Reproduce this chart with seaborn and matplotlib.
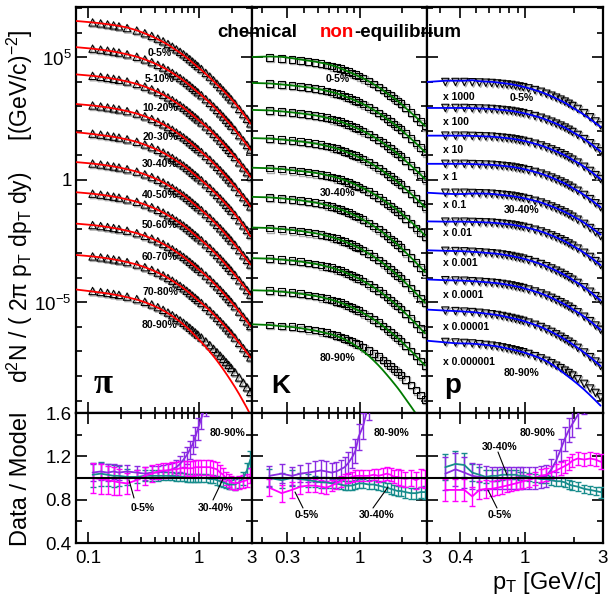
import numpy as np
import pandas as pd
import matplotlib
matplotlib.use("Agg")
import matplotlib.pyplot as plt
import seaborn as sns
from matplotlib.lines import Line2D
from matplotlib.ticker import FixedLocator, FixedFormatter, NullFormatter
from matplotlib.transforms import ScaledTranslation

# ---------------------------------------------------------------- data
centralities = ["0-5%", "5-10%", "10-20%", "20-30%", "30-40%",
                "40-50%", "50-60%", "60-70%", "70-80%", "80-90%"]
proton_scale_labels = ["x 1000", "x 100", "x 10", "x 1", "x 0.1", "x 0.01",
                       "x 0.001", "x 0.0001", "x 0.00001", "x 0.000001"]

# pT bin centres [GeV/c]
pion_pt = [0.11, 0.13, 0.15, 0.17, 0.19, 0.225, 0.275, 0.325, 0.375, 0.425,
           0.475, 0.525, 0.575, 0.625, 0.675, 0.725, 0.775, 0.825, 0.875,
           0.925, 0.975, 1.05, 1.15, 1.25, 1.35, 1.45, 1.55, 1.65, 1.75,
           1.85, 1.95, 2.1, 2.3, 2.5, 2.7, 2.9]
kaon_pt = [0.225, 0.275, 0.325, 0.375, 0.425, 0.475, 0.525, 0.575, 0.625,
           0.675, 0.725, 0.775, 0.825, 0.875, 0.925, 0.975, 1.05, 1.15, 1.25,
           1.35, 1.45, 1.55, 1.65, 1.75, 1.85, 1.95, 2.1, 2.3, 2.5, 2.7, 2.9]
proton_pt = [0.325, 0.375, 0.425, 0.475, 0.525, 0.575, 0.625, 0.675, 0.725,
             0.775, 0.825, 0.875, 0.925, 0.975, 1.05, 1.15, 1.25, 1.35, 1.45,
             1.55, 1.65, 1.75, 1.85, 1.95, 2.1, 2.3, 2.5, 2.7, 2.9]

# log10 of the plotted invariant yields d2N/(2pi pT dpT dy), per centrality
pion_0_5 = [6.43, 6.39, 6.35, 6.31, 6.27, 6.20, 6.10, 5.99, 5.88, 5.77, 5.66, 5.55, 5.44, 5.33, 5.23, 5.13, 5.03, 4.93, 4.83, 4.74, 4.65, 4.53, 4.37, 4.22, 4.07, 3.93, 3.79, 3.66, 3.53, 3.41, 3.29, 3.12, 2.90, 2.69, 2.50, 2.31]
pion_5_10 = [5.36, 5.32, 5.28, 5.24, 5.20, 5.13, 5.03, 4.92, 4.81, 4.70, 4.59, 4.48, 4.37, 4.26, 4.16, 4.06, 3.96, 3.86, 3.76, 3.67, 3.58, 3.46, 3.30, 3.15, 3.00, 2.86, 2.72, 2.59, 2.46, 2.34, 2.22, 2.05, 1.83, 1.62, 1.43, 1.24]
pion_10_20 = [4.25, 4.21, 4.17, 4.13, 4.09, 4.02, 3.92, 3.81, 3.70, 3.59, 3.48, 3.37, 3.26, 3.15, 3.05, 2.95, 2.85, 2.75, 2.65, 2.56, 2.47, 2.35, 2.19, 2.04, 1.89, 1.75, 1.61, 1.48, 1.35, 1.23, 1.11, 0.94, 0.72, 0.51, 0.32, 0.13]
pion_20_30 = [3.04, 3.00, 2.96, 2.92, 2.88, 2.81, 2.71, 2.60, 2.49, 2.38, 2.27, 2.16, 2.05, 1.94, 1.84, 1.74, 1.64, 1.54, 1.44, 1.35, 1.26, 1.14, 0.98, 0.83, 0.68, 0.54, 0.40, 0.27, 0.14, 0.02, -0.10, -0.27, -0.49, -0.70, -0.89, -1.08]
pion_30_40 = [1.89, 1.85, 1.81, 1.77, 1.73, 1.66, 1.56, 1.45, 1.34, 1.23, 1.12, 1.01, 0.90, 0.79, 0.69, 0.59, 0.49, 0.39, 0.29, 0.20, 0.11, -0.01, -0.17, -0.32, -0.47, -0.61, -0.75, -0.88, -1.01, -1.13, -1.25, -1.42, -1.64, -1.85, -2.04, -2.23]
pion_40_50 = [0.67, 0.63, 0.59, 0.55, 0.51, 0.44, 0.34, 0.23, 0.12, 0.01, -0.10, -0.21, -0.32, -0.43, -0.53, -0.63, -0.73, -0.83, -0.93, -1.02, -1.11, -1.23, -1.39, -1.54, -1.69, -1.83, -1.97, -2.10, -2.23, -2.35, -2.47, -2.64, -2.86, -3.07, -3.26, -3.45]
pion_50_60 = [-0.56, -0.60, -0.64, -0.68, -0.72, -0.79, -0.89, -1.00, -1.11, -1.22, -1.33, -1.44, -1.55, -1.66, -1.76, -1.86, -1.96, -2.06, -2.16, -2.25, -2.34, -2.46, -2.62, -2.77, -2.92, -3.06, -3.20, -3.33, -3.46, -3.58, -3.70, -3.87, -4.09, -4.30, -4.49, -4.68]
pion_60_70 = [-1.84, -1.88, -1.92, -1.96, -2.00, -2.07, -2.17, -2.28, -2.39, -2.50, -2.61, -2.72, -2.83, -2.94, -3.04, -3.14, -3.24, -3.34, -3.44, -3.53, -3.62, -3.74, -3.90, -4.05, -4.20, -4.34, -4.48, -4.61, -4.74, -4.86, -4.98, -5.15, -5.37, -5.58, -5.77, -5.96]
pion_70_80 = [-3.12, -3.16, -3.20, -3.24, -3.28, -3.35, -3.45, -3.56, -3.67, -3.78, -3.89, -4.00, -4.11, -4.22, -4.32, -4.42, -4.52, -4.62, -4.72, -4.81, -4.90, -5.02, -5.18, -5.33, -5.48, -5.62, -5.76, -5.89, -6.02, -6.14, -6.26, -6.43, -6.65, -6.86, -7.05, -7.24]
pion_80_90 = [-4.53, -4.57, -4.61, -4.65, -4.69, -4.76, -4.86, -4.97, -5.08, -5.19, -5.30, -5.41, -5.52, -5.63, -5.73, -5.83, -5.93, -6.03, -6.13, -6.22, -6.31, -6.43, -6.59, -6.74, -6.89, -7.03, -7.17, -7.30, -7.43, -7.55, -7.67, -7.84, -8.06, -8.27, -8.46, -8.65]

kaon_0_5 = [5.00, 4.96, 4.92, 4.88, 4.84, 4.80, 4.75, 4.70, 4.65, 4.60, 4.54, 4.48, 4.42, 4.36, 4.30, 4.24, 4.16, 4.04, 3.92, 3.80, 3.68, 3.56, 3.45, 3.34, 3.23, 3.12, 2.95, 2.75, 2.56, 2.38, 2.20]
kaon_5_10 = [3.94, 3.90, 3.86, 3.82, 3.78, 3.74, 3.69, 3.64, 3.59, 3.54, 3.48, 3.42, 3.36, 3.30, 3.24, 3.18, 3.10, 2.98, 2.86, 2.74, 2.62, 2.50, 2.39, 2.28, 2.17, 2.06, 1.89, 1.69, 1.50, 1.32, 1.14]
kaon_10_20 = [2.84, 2.80, 2.76, 2.72, 2.68, 2.64, 2.59, 2.54, 2.49, 2.44, 2.38, 2.32, 2.26, 2.20, 2.14, 2.08, 2.00, 1.88, 1.76, 1.64, 1.52, 1.40, 1.29, 1.18, 1.07, 0.96, 0.79, 0.59, 0.40, 0.22, 0.04]
kaon_20_30 = [1.69, 1.65, 1.61, 1.57, 1.53, 1.49, 1.44, 1.39, 1.34, 1.29, 1.23, 1.17, 1.11, 1.05, 0.99, 0.93, 0.85, 0.73, 0.61, 0.49, 0.37, 0.25, 0.14, 0.03, -0.08, -0.19, -0.36, -0.56, -0.75, -0.93, -1.11]
kaon_30_40 = [0.48, 0.44, 0.40, 0.36, 0.32, 0.28, 0.23, 0.18, 0.13, 0.08, 0.02, -0.04, -0.10, -0.16, -0.22, -0.28, -0.36, -0.48, -0.60, -0.72, -0.84, -0.96, -1.07, -1.18, -1.29, -1.40, -1.57, -1.77, -1.96, -2.14, -2.32]
kaon_40_50 = [-0.71, -0.75, -0.79, -0.83, -0.88, -0.92, -0.97, -1.03, -1.08, -1.14, -1.20, -1.26, -1.33, -1.39, -1.46, -1.52, -1.62, -1.75, -1.88, -2.01, -2.14, -2.27, -2.40, -2.52, -2.64, -2.76, -2.94, -3.16, -3.37, -3.57, -3.76]
kaon_50_60 = [-1.96, -2.00, -2.04, -2.08, -2.13, -2.17, -2.22, -2.28, -2.33, -2.39, -2.45, -2.51, -2.58, -2.64, -2.71, -2.77, -2.87, -3.00, -3.13, -3.26, -3.39, -3.52, -3.65, -3.77, -3.89, -4.01, -4.19, -4.41, -4.62, -4.82, -5.01]
kaon_60_70 = [-3.21, -3.25, -3.29, -3.33, -3.38, -3.42, -3.47, -3.53, -3.58, -3.64, -3.70, -3.76, -3.83, -3.89, -3.96, -4.02, -4.12, -4.25, -4.38, -4.51, -4.64, -4.77, -4.90, -5.02, -5.14, -5.26, -5.44, -5.66, -5.87, -6.07, -6.26]
kaon_70_80 = [-4.52, -4.56, -4.60, -4.64, -4.69, -4.73, -4.78, -4.84, -4.89, -4.95, -5.01, -5.07, -5.14, -5.20, -5.27, -5.33, -5.43, -5.56, -5.69, -5.82, -5.95, -6.08, -6.21, -6.33, -6.45, -6.57, -6.75, -6.97, -7.18, -7.38, -7.57]
kaon_80_90 = [-5.91, -5.95, -5.99, -6.03, -6.08, -6.12, -6.17, -6.23, -6.28, -6.34, -6.40, -6.46, -6.53, -6.59, -6.66, -6.72, -6.82, -6.95, -7.08, -7.21, -7.34, -7.47, -7.60, -7.72, -7.84, -7.96, -8.14, -8.36, -8.57, -8.77, -8.96]

proton_0_5 = [4.00, 4.00, 4.00, 3.99, 3.98, 3.97, 3.96, 3.94, 3.92, 3.90, 3.88, 3.85, 3.82, 3.79, 3.74, 3.67, 3.60, 3.52, 3.44, 3.36, 3.28, 3.20, 3.11, 3.02, 2.90, 2.73, 2.56, 2.39, 2.23]
proton_5_10 = [2.94, 2.94, 2.94, 2.93, 2.92, 2.91, 2.90, 2.88, 2.86, 2.84, 2.82, 2.79, 2.76, 2.73, 2.68, 2.61, 2.54, 2.46, 2.38, 2.30, 2.22, 2.14, 2.05, 1.96, 1.84, 1.67, 1.50, 1.33, 1.17]
proton_10_20 = [1.81, 1.81, 1.81, 1.80, 1.79, 1.78, 1.77, 1.75, 1.73, 1.71, 1.69, 1.66, 1.63, 1.60, 1.55, 1.48, 1.41, 1.33, 1.25, 1.17, 1.09, 1.01, 0.92, 0.83, 0.71, 0.54, 0.37, 0.20, 0.04]
proton_20_30 = [0.66, 0.66, 0.66, 0.65, 0.64, 0.63, 0.62, 0.60, 0.58, 0.56, 0.54, 0.51, 0.48, 0.45, 0.40, 0.33, 0.26, 0.18, 0.10, 0.02, -0.06, -0.14, -0.23, -0.32, -0.44, -0.61, -0.78, -0.95, -1.11]
proton_30_40 = [-0.52, -0.52, -0.52, -0.53, -0.54, -0.55, -0.56, -0.58, -0.60, -0.62, -0.64, -0.67, -0.70, -0.73, -0.78, -0.85, -0.92, -1.00, -1.08, -1.16, -1.24, -1.32, -1.41, -1.50, -1.62, -1.79, -1.96, -2.13, -2.29]
proton_40_50 = [-1.70, -1.70, -1.70, -1.71, -1.72, -1.73, -1.74, -1.76, -1.78, -1.80, -1.82, -1.85, -1.88, -1.91, -1.96, -2.03, -2.10, -2.18, -2.26, -2.34, -2.42, -2.50, -2.59, -2.68, -2.80, -2.97, -3.14, -3.31, -3.47]
proton_50_60 = [-2.89, -2.90, -2.91, -2.93, -2.95, -2.97, -2.99, -3.01, -3.04, -3.07, -3.10, -3.14, -3.17, -3.21, -3.27, -3.35, -3.43, -3.52, -3.61, -3.70, -3.79, -3.88, -3.97, -4.07, -4.20, -4.38, -4.56, -4.74, -4.91]
proton_60_70 = [-4.09, -4.10, -4.11, -4.13, -4.15, -4.17, -4.19, -4.21, -4.24, -4.27, -4.30, -4.34, -4.37, -4.41, -4.47, -4.55, -4.63, -4.72, -4.81, -4.90, -4.99, -5.08, -5.17, -5.27, -5.40, -5.58, -5.76, -5.94, -6.11]
proton_70_80 = [-5.33, -5.35, -5.37, -5.39, -5.42, -5.45, -5.48, -5.51, -5.55, -5.59, -5.63, -5.67, -5.71, -5.75, -5.82, -5.91, -6.00, -6.10, -6.20, -6.30, -6.40, -6.50, -6.60, -6.70, -6.85, -7.04, -7.23, -7.41, -7.59]
proton_80_90 = [-6.61, -6.63, -6.65, -6.67, -6.70, -6.73, -6.76, -6.79, -6.83, -6.87, -6.91, -6.95, -6.99, -7.03, -7.10, -7.19, -7.28, -7.38, -7.48, -7.58, -7.68, -7.78, -7.88, -7.98, -8.13, -8.32, -8.51, -8.69, -8.87]

# log10 of the model curves at the low-pT edge of each panel
pion_model_edge = [6.49, 5.42, 4.31, 3.10, 1.95, 0.73, -0.50, -1.78, -3.06, -4.47]
kaon_model_edge = [5.02, 3.96, 2.86, 1.71, 0.50, -0.69, -1.94, -3.19, -4.50, -5.89]
proton_model_edge = [4.00, 2.94, 1.81, 0.66, -0.52, -1.69, -2.87, -4.06, -5.29, -6.56]

# Data / Model ratios and their uncertainties
pion_ratio_0_5 = [1.00, 0.99, 0.98, 0.97, 0.96, 0.95, 0.98, 1.02, 1.04, 1.06, 1.07, 1.07, 1.08, 1.08, 1.09, 1.09, 1.09, 1.09, 1.09, 1.10, 1.10, 1.10, 1.10, 1.10, 1.09, 1.08, 1.05, 1.03, 1.00, 0.98, 0.96, 0.95, 0.96, 0.97, 0.98, 1.02]
pion_err_0_5 = [0.14, 0.14, 0.13, 0.13, 0.12, 0.10, 0.09, 0.08, 0.08, 0.07, 0.07, 0.07, 0.07, 0.07, 0.07, 0.07, 0.07, 0.07, 0.07, 0.07, 0.07, 0.07, 0.07, 0.07, 0.07, 0.07, 0.07, 0.06, 0.06, 0.06, 0.06, 0.06, 0.06, 0.06, 0.06, 0.07]
pion_ratio_30_40 = [1.03, 1.04, 1.03, 1.02, 1.02, 1.01, 1.01, 1.02, 1.02, 1.02, 1.02, 1.02, 1.02, 1.01, 1.01, 1.01, 1.00, 1.00, 1.00, 1.00, 1.00, 1.00, 1.00, 0.99, 0.99, 0.98, 0.97, 0.96, 0.95, 0.94, 0.94, 0.94, 0.96, 1.00, 1.07, 1.17]
pion_err_30_40 = [0.11, 0.11, 0.10, 0.10, 0.09, 0.07, 0.06, 0.05, 0.05, 0.05, 0.04, 0.04, 0.04, 0.04, 0.04, 0.04, 0.04, 0.04, 0.04, 0.04, 0.04, 0.04, 0.04, 0.04, 0.04, 0.04, 0.04, 0.04, 0.04, 0.04, 0.04, 0.05, 0.05, 0.06, 0.07, 0.08]
pion_ratio_80_90 = [1.05, 1.06, 1.05, 1.06, 1.05, 1.06, 1.05, 1.04, 1.05, 1.05, 1.06, 1.07, 1.08, 1.10, 1.13, 1.17, 1.21, 1.26, 1.31, 1.38, 1.45, 1.55, 1.68, 1.85, 2.0, 2.2, 2.4, 2.65, 2.9, 3.2, 3.5, 4.0, 4.8, 5.8, 7.0, 8.5]
pion_err_80_90 = [0.08, 0.08, 0.08, 0.07, 0.07, 0.06, 0.06, 0.06, 0.06, 0.06, 0.06, 0.06, 0.06, 0.07, 0.07, 0.07, 0.08, 0.08, 0.09, 0.09, 0.10, 0.10, 0.11, 0.12, 0.13, 0.14, 0.15, 0.16, 0.18, 0.20, 0.22, 0.25, 0.30, 0.35, 0.40, 0.50]

kaon_ratio_0_5 = [0.91, 0.86, 0.89, 0.92, 0.93, 0.93, 0.92, 0.91, 0.93, 0.95, 0.97, 0.99, 1.00, 1.01, 1.02, 1.02, 1.02, 1.02, 1.03, 1.02, 1.03, 1.04, 1.03, 1.01, 1.01, 1.00, 0.99, 1.00, 0.98, 1.00, 0.99]
kaon_err_0_5 = [0.08, 0.08, 0.07, 0.07, 0.06, 0.06, 0.06, 0.06, 0.05, 0.05, 0.05, 0.05, 0.05, 0.05, 0.05, 0.05, 0.05, 0.05, 0.05, 0.06, 0.06, 0.06, 0.06, 0.06, 0.07, 0.07, 0.07, 0.07, 0.08, 0.08, 0.08]
kaon_ratio_30_40 = [1.00, 0.98, 1.00, 0.99, 0.98, 0.97, 0.96, 0.96, 0.95, 0.95, 0.94, 0.93, 0.93, 0.93, 0.94, 0.95, 0.95, 0.94, 0.94, 0.93, 0.92, 0.91, 0.90, 0.89, 0.88, 0.88, 0.87, 0.86, 0.86, 0.87, 0.87]
kaon_err_30_40 = [0.08, 0.07, 0.07, 0.06, 0.06, 0.05, 0.05, 0.05, 0.04, 0.04, 0.04, 0.04, 0.04, 0.04, 0.04, 0.04, 0.04, 0.04, 0.04, 0.04, 0.04, 0.04, 0.05, 0.05, 0.05, 0.05, 0.05, 0.05, 0.05, 0.05, 0.06]
kaon_ratio_80_90 = [1.02, 1.04, 1.02, 1.04, 1.05, 1.06, 1.07, 1.06, 1.05, 1.06, 1.08, 1.10, 1.14, 1.19, 1.25, 1.38, 1.48, 1.68, 1.95, 2.25, 2.6, 3.0, 3.4, 3.9, 4.4, 5.0, 6.0, 7.5, 9.2, 11.5, 14.0]
kaon_err_80_90 = [0.09, 0.09, 0.08, 0.08, 0.09, 0.10, 0.10, 0.10, 0.09, 0.09, 0.09, 0.09, 0.10, 0.10, 0.11, 0.12, 0.12, 0.14, 0.16, 0.18, 0.20, 0.22, 0.25, 0.30, 0.35, 0.40, 0.50, 0.60, 0.70, 0.90, 1.10]

proton_ratio_0_5 = [0.89, 0.89, 0.89, 0.83, 0.89, 0.90, 0.90, 0.91, 0.92, 0.93, 0.94, 0.95, 0.96, 0.97, 0.98, 1.00, 1.02, 1.03, 1.05, 1.07, 1.09, 1.11, 1.13, 1.16, 1.18, 1.17, 1.18, 1.17, 1.15]
proton_err_0_5 = [0.10, 0.10, 0.10, 0.09, 0.08, 0.08, 0.07, 0.07, 0.07, 0.06, 0.06, 0.06, 0.06, 0.06, 0.06, 0.06, 0.06, 0.06, 0.06, 0.06, 0.06, 0.06, 0.06, 0.06, 0.06, 0.06, 0.06, 0.06, 0.07]
proton_ratio_30_40 = [1.10, 1.13, 1.12, 1.05, 1.03, 1.01, 1.02, 1.02, 1.03, 1.03, 1.03, 1.03, 1.02, 1.02, 1.01, 1.00, 0.99, 0.99, 0.98, 0.97, 0.97, 0.96, 0.94, 0.93, 0.92, 0.90, 0.89, 0.88, 0.87]
proton_err_30_40 = [0.12, 0.12, 0.11, 0.08, 0.07, 0.06, 0.05, 0.05, 0.05, 0.04, 0.04, 0.04, 0.04, 0.04, 0.04, 0.04, 0.04, 0.04, 0.04, 0.04, 0.04, 0.04, 0.04, 0.04, 0.04, 0.04, 0.04, 0.04, 0.05]
proton_ratio_80_90 = [1.04, 1.08, 1.05, 1.02, 1.01, 1.00, 1.00, 1.00, 1.00, 1.00, 1.00, 1.00, 1.00, 1.00, 1.00, 1.00, 1.01, 1.02, 1.08, 1.16, 1.26, 1.36, 1.44, 1.50, 1.58, 1.72, 1.88, 2.05, 2.2]
proton_err_80_90 = [0.15, 0.15, 0.14, 0.12, 0.12, 0.11, 0.10, 0.10, 0.10, 0.10, 0.10, 0.10, 0.10, 0.10, 0.10, 0.10, 0.10, 0.10, 0.10, 0.10, 0.10, 0.11, 0.11, 0.12, 0.12, 0.13, 0.14, 0.15, 0.16]

# ---------------------------------------------------------------- style
sns.set_theme(style="ticks")
plt.rcParams.update({
    "font.family": ["Liberation Sans", "DejaVu Sans"],
    "mathtext.fontset": "custom",
    "mathtext.rm": "Liberation Sans",
    "mathtext.it": "Liberation Sans:italic",
    "mathtext.bf": "Liberation Sans:bold",
    "axes.linewidth": 1.6,
    "axes.edgecolor": "black",
    "text.color": "black",
    "axes.labelcolor": "black",
    "xtick.color": "black",
    "ytick.color": "black",
})

W, H = 608, 599
fig = plt.figure(figsize=(W / 100, H / 100), dpi=100)
fig.patch.set_facecolor("white")


def fx(px):
    return px / W


def fy(py):
    return 1 - py / H


def px_axes(x0, x1, y0, y1):
    return fig.add_axes([fx(x0), fy(y1), fx(x1) - fx(x0), fy(y0) - fy(y1)])


species = [
    dict(pt=pion_pt, marker="^", size=28, color="#ff0000",
         spectra=[pion_0_5, pion_5_10, pion_10_20, pion_20_30, pion_30_40,
                  pion_40_50, pion_50_60, pion_60_70, pion_70_80, pion_80_90],
         edge=pion_model_edge, xlim=(0.078, 3.0), cols=(76, 252),
         ratios={"0-5%": (pion_ratio_0_5, pion_err_0_5),
                 "30-40%": (pion_ratio_30_40, pion_err_30_40),
                 "80-90%": (pion_ratio_80_90, pion_err_80_90)},
         major=[0.1, 1, 3], major_lbl=["0.1", "1", "3"],
         minor=[0.2, 0.3, 0.4, 0.5, 0.6, 0.7, 0.8, 0.9, 2]),
    dict(pt=kaon_pt, marker="s", size=22, color="#007a00",
         spectra=[kaon_0_5, kaon_5_10, kaon_10_20, kaon_20_30, kaon_30_40,
                  kaon_40_50, kaon_50_60, kaon_60_70, kaon_70_80, kaon_80_90],
         edge=kaon_model_edge, xlim=(0.169, 3.0), cols=(252, 427),
         ratios={"0-5%": (kaon_ratio_0_5, kaon_err_0_5),
                 "30-40%": (kaon_ratio_30_40, kaon_err_30_40),
                 "80-90%": (kaon_ratio_80_90, kaon_err_80_90)},
         major=[0.3, 1, 3], major_lbl=["0.3", "1", "3"],
         minor=[0.2, 0.4, 0.5, 0.6, 0.7, 0.8, 0.9, 2]),
    dict(pt=proton_pt, marker="v", size=28, color="#0000ff",
         spectra=[proton_0_5, proton_5_10, proton_10_20, proton_20_30, proton_30_40,
                  proton_40_50, proton_50_60, proton_60_70, proton_70_80, proton_80_90],
         edge=proton_model_edge, xlim=(0.251, 3.0), cols=(427, 603),
         ratios={"0-5%": (proton_ratio_0_5, proton_err_0_5),
                 "30-40%": (proton_ratio_30_40, proton_err_30_40),
                 "80-90%": (proton_ratio_80_90, proton_err_80_90)},
         major=[0.4, 1, 3], major_lbl=["0.4", "1", "3"],
         minor=[0.3, 0.5, 0.6, 0.7, 0.8, 0.9, 2]),
]

ratio_colors = {"30-40%": "#178c8c", "80-90%": "#8a2be2", "0-5%": "#ff00ff"}
shadow = ScaledTranslation(0.013, -0.013, fig.dpi_scale_trans)


def style_axis(ax, sp, show_x, show_y, top):
    ax.set_xscale("log")
    ax.set_xlim(*sp["xlim"])
    ax.xaxis.set_major_locator(FixedLocator(sp["major"]))
    ax.xaxis.set_minor_locator(FixedLocator(sp["minor"]))
    ax.xaxis.set_minor_formatter(NullFormatter())
    if show_x:
        ax.xaxis.set_major_formatter(FixedFormatter(sp["major_lbl"]))
    else:
        ax.xaxis.set_major_formatter(NullFormatter())
    if top:
        ax.set_yscale("log")
        ax.set_ylim(10 ** -9.51, 10 ** 7.06)
        ax.yaxis.set_major_locator(FixedLocator([1e-5, 1.0, 1e5]))
        ax.yaxis.set_minor_locator(FixedLocator([10.0 ** k for k in range(-9, 8) if k % 5]))
        ax.yaxis.set_major_formatter(FixedFormatter(
            [r"10$^{\mathregular{-5}}$", "1", r"10$^{\mathregular{5}}$"]) if show_y else NullFormatter())
    else:
        ax.set_ylim(0.4, 1.6)
        ax.yaxis.set_major_locator(FixedLocator([0.4, 0.8, 1.2, 1.6]))
        ax.yaxis.set_minor_locator(FixedLocator([0.6, 1.0, 1.4]))
        ax.yaxis.set_major_formatter(FixedFormatter(["0.4", "0.8", "1.2", "1.6"]) if show_y else NullFormatter())
    ax.yaxis.set_minor_formatter(NullFormatter())
    ax.tick_params(which="both", direction="in", top=True, right=True,
                   width=1.2, labelsize=13.5, colors="black")
    ax.tick_params(which="major", length=8)
    ax.tick_params(which="minor", length=4)
    ax.tick_params(axis="x", pad=5)
    ax.tick_params(axis="y", pad=3)
    ax.set_xlabel("")
    ax.set_ylabel("")
    ax.set_facecolor("white")


for k, sp in enumerate(species):
    x0, x1 = sp["cols"]
    ax = px_axes(x0, x1, 7, 413)
    ax.set_xscale("log")
    ax.set_yscale("log")
    pt = np.asarray(sp["pt"])
    for cent, vals in zip(centralities, sp["spectra"]):
        y = 10 ** np.asarray(vals)
        # shaded copy standing in for the systematic-uncertainty boxes
        sns.scatterplot(x=pt, y=y, marker=sp["marker"], s=sp["size"], ax=ax,
                        legend=False, zorder=1)
        c = ax.collections[-1]
        c.set_facecolor("none"); c.set_edgecolor("#ababab"); c.set_linewidth(1.0)
        c.set_offset_transform(ax.transData + shadow)
        sns.scatterplot(x=pt, y=y, marker=sp["marker"], s=sp["size"], ax=ax,
                        legend=False, zorder=2)
        c = ax.collections[-1]
        c.set_facecolor("none"); c.set_edgecolor("black"); c.set_linewidth(0.8)
    for i, (cent, vals) in enumerate(zip(centralities, sp["spectra"])):
        logm = np.asarray(vals, dtype=float)
        if cent in sp["ratios"]:
            logm = logm - np.log10(sp["ratios"][cent][0])
        mx = np.r_[sp["xlim"][0], pt]
        my = 10 ** np.r_[sp["edge"][i], logm]
        line_df = pd.DataFrame({"pt": mx, "yield": my})
        sns.lineplot(data=line_df, x="pt", y="yield", color=sp["color"], lw=1.3,
                     ax=ax, sort=False, estimator=None, legend=False, zorder=3)
    style_axis(ax, sp, show_x=False, show_y=(k == 0), top=True)

    axr = px_axes(x0, x1, 413, 543)
    axr.set_xscale("log")
    axr.axhline(1.0, color="black", lw=1.5, zorder=5)
    for cent in ["30-40%", "80-90%", "0-5%"]:
        r, e = sp["ratios"][cent]
        col = ratio_colors[cent]
        rdf = pd.DataFrame({"pt": pt, "ratio": r})
        axr.errorbar(pt, r, yerr=e, fmt="none", ecolor=col, elinewidth=1.0,
                     capsize=2.0, capthick=1.0, zorder=3)
        sns.lineplot(data=rdf, x="pt", y="ratio", color=col, lw=1.3, ax=axr,
                     sort=False, estimator=None, legend=False, zorder=4)
    style_axis(axr, sp, show_x=True, show_y=(k == 0), top=False)

# ---------------------------------------------------------------- text
lab = dict(fontsize=7.5, fontweight="bold", ha="center", va="center")
for cent, ypx in zip(centralities, [53, 79, 108, 137, 164, 195, 225, 257, 292, 325]):
    fig.text(fx(160), fy(ypx), cent, **lab)
for cent, ypx in zip(["0-5%", "30-40%", "80-90%"], [79, 193, 358]):
    fig.text(fx(338), fy(ypx), cent, **lab)
for cent, ypx in zip(["0-5%", "30-40%", "80-90%"], [98, 210, 373]):
    fig.text(fx(522), fy(ypx), cent, **lab)
for txt, ypx in zip(proton_scale_labels, [97, 122, 150, 177, 205, 233, 263, 295, 327, 362]):
    fig.text(fx(443), fy(ypx), txt, fontsize=7.5, fontweight="bold", ha="left", va="center")

# ratio-panel labels with pointer lines
ratio_labels = [("80-90%", 228, 433), ("0-5%", 143, 508), ("30-40%", 216, 508),
                ("80-90%", 392, 433), ("0-5%", 307, 515), ("30-40%", 377, 515),
                ("80-90%", 537, 433), ("30-40%", 500, 447), ("0-5%", 500, 515)]
for txt, xp, yp in ratio_labels:
    fig.text(fx(xp), fy(yp), txt, **lab)
pointers = [(134, 498, 129, 480), (213, 500, 223, 479),
            (303, 508, 295, 492), (373, 508, 388, 487),
            (498, 452, 507, 475), (497, 508, 488, 490)]
for xa, ya, xb, yb in pointers:
    fig.add_artist(Line2D([fx(xa), fx(xb)], [fy(ya), fy(yb)], color="black",
                          lw=0.8, transform=fig.transFigure))

# panel species symbols
fig.text(fx(94), fy(393), "π", fontsize=25, fontweight="bold",
         family=["Liberation Serif", "DejaVu Serif"], ha="left", va="baseline")
fig.text(fx(271), fy(393), "K", fontsize=19, fontweight="bold", ha="left", va="baseline")
fig.text(fx(444), fy(393), "p", fontsize=20, fontweight="bold", ha="left", va="baseline")

# header
renderer = fig.canvas.get_renderer()
fig.text(fx(217), fy(37), "chemical", fontsize=13.5, fontweight="bold",
         ha="left", va="baseline")
t2 = fig.text(fx(320), fy(37), "non", fontsize=13.5, fontweight="bold", color="red",
              ha="left", va="baseline")
bb = t2.get_window_extent(renderer=renderer)
fig.text(bb.x1 / W, fy(37), "-equilibrium", fontsize=13.5, fontweight="bold",
         ha="left", va="baseline")

# axis titles
fig.text(fx(20), fy(206),
         r"d$^{\mathregular{2}}$N / ( 2π p$_{\mathregular{T}}$ dp$_{\mathregular{T}}$ dy)     "
         r"[(GeV/c)$^{\mathregular{-2}}$]",
         rotation=90, fontsize=16.5, ha="center", va="center")
fig.text(fx(21), fy(479), "Data / Model", rotation=90, fontsize=17,
         ha="center", va="center")
fig.text(fx(602), fy(589), r"p$_{\mathregular{T}}$ [GeV/c]", fontsize=17,
         ha="right", va="baseline")

fig.savefig("out.png", dpi=100, facecolor="white")
